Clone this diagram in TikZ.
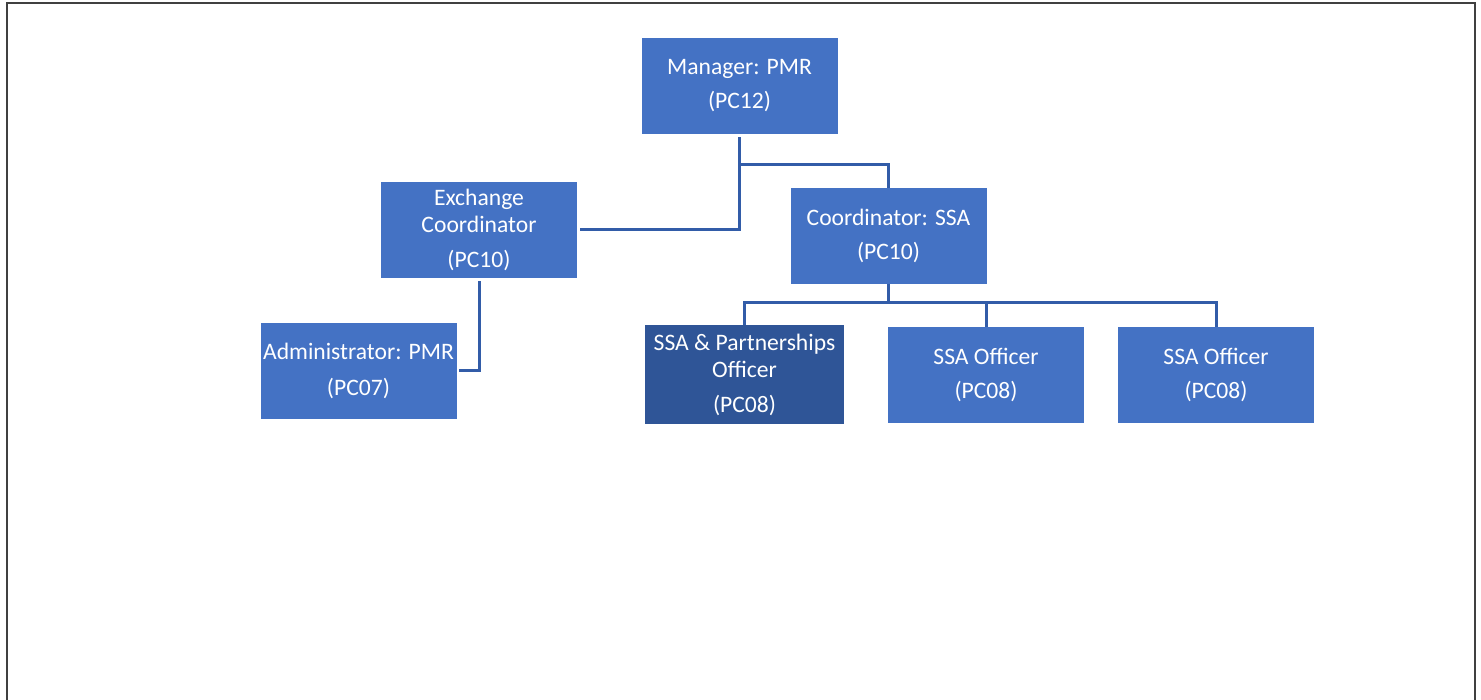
\documentclass[tikz,border=0pt]{standalone}
\usepackage{fontspec}
\setmainfont{Carlito}
\usetikzlibrary{positioning, calc}
\definecolor{cUnit}{RGB}{68,114,196}
\definecolor{cUnitDark}{RGB}{47,85,151}
\definecolor{cLink}{RGB}{50,92,168}
\definecolor{cFrame}{RGB}{64,64,64}
\tikzset{
    unit/.style={
        rectangle, fill=cUnit, draw=none,
        inner sep=0pt, align=center, text=white,
        font=\fontsize{23.6}{27}\selectfont,
        minimum width=196pt, minimum height=96pt,
    },
    unitdark/.style={
        unit, fill=cUnitDark, minimum width=199pt, minimum height=99pt,
    },
    link/.style={
        draw=cLink, line width=3pt, line cap=butt, line join=miter,
    },
}

\begin{document}
\begin{tikzpicture}[x=1pt, y=-1pt]

\useasboundingbox (0,0) rectangle (1481,700);

% page frame, open at the bottom
\draw[cFrame, line width=2pt] (7,700) -- (7,3) -- (1475,3) -- (1475,700);

% ============================================================
%  Boxes
% ============================================================
\node[unit] (mgr) at (739.5,86) {Manager: PMR\\[7pt](PC12)};

\node[unit] (exch) at (479,230) {Exchange\\Coordinator\\[8pt](PC10)};
\node[unit] (ssa) at (888.5,236) {Coordinator: SSA\\[7pt](PC10)};

\node[unit] (admin) at (358.5,371) {Administrator: PMR\\[9pt](PC07)};

\node[unitdark] (ssap) at (744.5,374.5) {SSA \& Partnerships\\Officer\\[8pt](PC08)};
\node[unit] (off1) at (986,375) {SSA Officer\\[7pt](PC08)};
\node[unit] (off2) at (1216,375) {SSA Officer\\[7pt](PC08)};

% ============================================================
%  Reporting lines
% ============================================================
\coordinate (mgrjoin) at (739.5,165);
\coordinate (ssabus) at (888.5,303);

% manager down to the exchange coordinator, branch to SSA
\draw[link, shorten <=3pt, shorten >=3pt] (mgr.south) -- (mgr.south |- exch.east) -- (exch.east);
\draw[link] (mgrjoin) -| (ssa.north);

% exchange coordinator to the administrator
\draw[link, shorten <=3pt, shorten >=2pt] (exch.south) |- (admin.east);

% SSA coordinator to the three officers
\draw[link] (ssa.south) -- (ssabus);
\foreach \n in {ssap, off1, off2}
    \draw[link] (ssabus) -| (\n.north);

\end{tikzpicture}
\end{document}
